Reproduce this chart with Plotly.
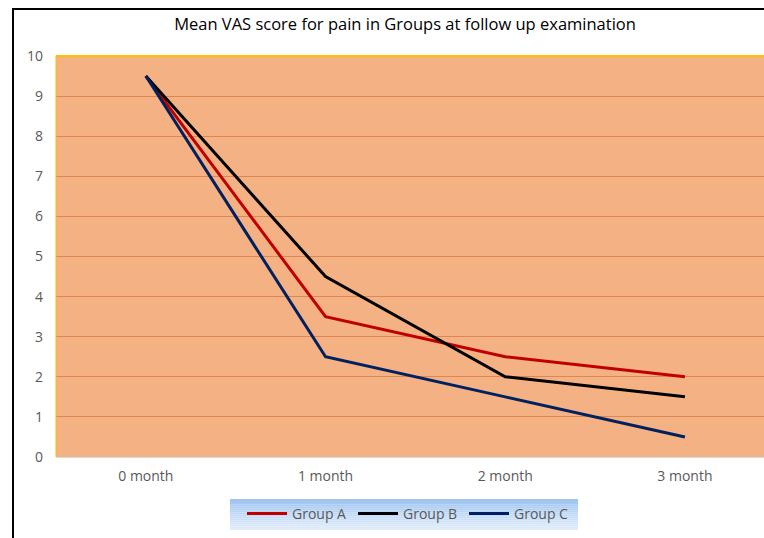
import plotly.graph_objects as go

categories = ["0 month", "1 month", "2 month", "3 month"]
group_a = [9.5, 3.5, 2.5, 2.0]
group_b = [9.5, 4.5, 2.0, 1.5]
group_c = [9.5, 2.5, 1.5, 0.5]
series_names = ["Group A", "Group B", "Group C"]
series_colors = ["#C00000", "#000000", "#002060"]

fig = go.Figure()
for name, vals, col in zip(series_names, [group_a, group_b, group_c], series_colors):
    fig.add_trace(go.Scatter(x=list(range(len(categories))), y=vals, mode="lines", name=name,
                             line=dict(color=col, width=3)))

W, H = 764, 538
L, R, T, B = 56, 0, 56, 81
pw = W - L - R
ph = H - T - B

def px_to_paper_x(px):
    return (px - L) / pw

def px_to_paper_y(py):
    return (H - B - py) / ph

fig.update_layout(
    width=W, height=H,
    margin=dict(l=L, r=R, t=T, b=B),
    paper_bgcolor="white",
    plot_bgcolor="#F4B183",
    font=dict(family="Open Sans, sans-serif", color="#595959", size=14),
    title=dict(text="Mean VAS score for pain in Groups at follow up examination",
               x=px_to_paper_x(405), xref="paper", xanchor="center",
               y=1 - 24 / H, yanchor="middle",
               font=dict(family="Open Sans, sans-serif", size=16.5, color="#000000")),
    xaxis=dict(range=[-0.5, 3.44], tickmode="array", tickvals=list(range(len(categories))),
               ticktext=categories, showgrid=False, zeroline=False,
               showline=True, linecolor="#D9D9D9", linewidth=1, ticks="",
               ticklabelstandoff=6,
               tickfont=dict(size=14, color="#595959"), fixedrange=True),
    yaxis=dict(range=[0, 10], dtick=1, showgrid=True, gridcolor="#DE8750", gridwidth=1,
               zeroline=False, showline=False, ticks="", ticklabelstandoff=12,
               tickfont=dict(size=14, color="#595959"), fixedrange=True),
    legend=dict(orientation="h", x=px_to_paper_x(242), xanchor="left",
                y=px_to_paper_y(514), yanchor="middle",
                bgcolor="rgba(0,0,0,0)", borderwidth=0,
                font=dict(size=14, color="#595959"),
                itemwidth=40, entrywidth=56, tracegroupgap=0),
    showlegend=True,
)

# legend background gradient (bands)
top_rgb = (157, 195, 240)
bot_rgb = (228, 238, 251)
y_top, y_bot = 499, 530
nb = 16
for i in range(nb):
    t = (i + 0.5) / nb
    c = tuple(int(round(top_rgb[k] + (bot_rgb[k] - top_rgb[k]) * t)) for k in range(3))
    ya = y_top + (y_bot - y_top) * i / nb
    yb = y_top + (y_bot - y_top) * (i + 1) / nb
    fig.add_shape(type="rect", xref="paper", yref="paper", layer="below",
                  x0=px_to_paper_x(230), x1=px_to_paper_x(578),
                  y0=px_to_paper_y(yb), y1=px_to_paper_y(ya),
                  line=dict(width=0), fillcolor="rgb(%d,%d,%d)" % c)

# plot area top (gold) and left border
fig.add_shape(type="line", xref="paper", yref="paper", x0=0, x1=1, y0=1, y1=1,
              line=dict(color="#FFC000", width=2))
fig.add_shape(type="line", xref="paper", yref="paper", x0=0, x1=0, y0=0, y1=1,
              line=dict(color="#FFC000", width=1))
# outer chart frame (left and top, black)
fig.add_shape(type="line", xref="paper", yref="paper",
              x0=px_to_paper_x(13), x1=px_to_paper_x(13), y0=px_to_paper_y(8), y1=px_to_paper_y(545),
              line=dict(color="#000000", width=2))
fig.add_shape(type="line", xref="paper", yref="paper",
              x0=px_to_paper_x(12), x1=1, y0=px_to_paper_y(9), y1=px_to_paper_y(9),
              line=dict(color="#000000", width=2))

fig.write_html("out.html", config={"displayModeBar": False},
               post_script=("var s=document.createElement('style');"
                            "s.textContent='html,body{margin:0;padding:0;overflow:hidden;}"
                            "::-webkit-scrollbar{display:none;width:0;height:0;}';"
                            "document.head.appendChild(s);"))
